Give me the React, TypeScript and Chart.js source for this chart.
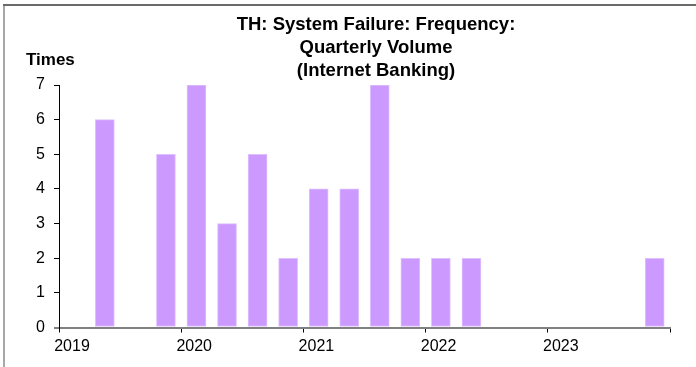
import React, { useEffect, useRef } from "react";
import { Chart, registerables } from "chart.js";

Chart.register(...registerables);

const quarters = [
  "2019Q1", "2019Q2", "2019Q3", "2019Q4",
  "2020Q1", "2020Q2", "2020Q3", "2020Q4",
  "2021Q1", "2021Q2", "2021Q3", "2021Q4",
  "2022Q1", "2022Q2", "2022Q3", "2022Q4",
  "2023Q1", "2023Q2", "2023Q3", "2023Q4",
];
const failures = [0, 6, 0, 5, 7, 3, 5, 2, 4, 4, 7, 2, 2, 2, 0, 0, 0, 0, 0, 2];
const yearLabels = ["2019", "2020", "2021", "2022", "2023", ""];
const titleLines = ["TH: System Failure: Frequency:", "Quarterly Volume", "(Internet Banking)"];
const yAxisTitle = "Times";

const FONT = "'Liberation Sans', Arial, sans-serif";

export default function App() {
  const ref = useRef<HTMLCanvasElement | null>(null);

  useEffect(() => {
    if (!ref.current) return;
    const points = quarters.map((q, i) => ({ x: i + 0.5, y: failures[i] === 0 ? null : failures[i] }));

    const decor = {
      id: "decor",
      beforeDraw(chart: any) {
        const ctx = chart.ctx;
        ctx.save();
        ctx.fillStyle = "#ffffff";
        ctx.fillRect(0, 0, chart.width, chart.height);
        ctx.restore();
      },
      afterDraw(chart: any) {
        const ctx = chart.ctx;
        ctx.save();
        // frame
        ctx.fillStyle = "#a8a8a8";
        ctx.fillRect(3, 5, 2, chart.height - 5);
        ctx.fillStyle = "#6a6a6a";
        ctx.fillRect(3, 4, chart.width - 3, 2);
        // title
        ctx.fillStyle = "#000000";
        ctx.font = "bold 18.5px " + FONT;
        ctx.textAlign = "center";
        ctx.textBaseline = "alphabetic";
        const bases = [30, 53, 76];
        titleLines.forEach((t, i) => ctx.fillText(t, 376, bases[i]));
        // y axis title
        ctx.font = "bold 17px " + FONT;
        ctx.textAlign = "left";
        ctx.fillText(yAxisTitle, 26, 65);
        ctx.restore();
      },
    };

    const chart = new Chart(ref.current, {
      type: "bar",
      data: {
        datasets: [
          {
            label: "Times",
            data: points as any,
            backgroundColor: "#CC99FF",
            borderColor: "#DEC0FF",
            borderWidth: 1,
            borderSkipped: false,
            barThickness: 19,
          },
        ],
      },
      options: {
        responsive: false,
        animation: false,
        devicePixelRatio: 1,
        layout: { padding: { left: 0, right: 26, top: 85, bottom: 0 } },
        plugins: { legend: { display: false }, title: { display: false }, tooltip: { enabled: false } },
        scales: {
          x: {
            type: "linear",
            min: 0,
            max: 20,
            offset: false,
            border: { display: true, color: "#808080", width: 2 },
            grid: { display: true, offset: false, drawOnChartArea: false, drawTicks: true, tickLength: 5, color: "#000000", lineWidth: 1 },
            ticks: {
              stepSize: 4,
              autoSkip: false,
              maxRotation: 0,
              padding: 4,
              labelOffset: 13,
              color: "#000000",
              font: { family: FONT, size: 16 },
              callback: (v: any) => {
                const n = Number(v);
                return n % 4 === 0 ? yearLabels[n / 4] : "";
              },
            },
            afterFit: (s: any) => {
              s.height = 39.5;
            },
          },
          y: {
            min: 0,
            max: 7,
            border: { display: true, color: "#000000", width: 1 },
            grid: {
              display: true,
              offset: false,
              drawOnChartArea: false,
              drawTicks: true,
              tickLength: 5,
              color: (c: any) => (c.tick && c.tick.value === 0 ? "#808080" : "#000000"),
              lineWidth: (c: any) => (c.tick && c.tick.value === 0 ? 2 : 1),
            },
            ticks: {
              stepSize: 1,
              padding: 9,
              color: "#000000",
              font: { family: FONT, size: 16 },
            },
            afterFit: (s: any) => {
              s.width = 59;
            },
          },
        },
      },
      plugins: [decor],
    });
    return () => chart.destroy();
  }, []);

  return (
    <div style={{ position: "fixed", left: 0, top: 0, width: 696, height: 367, background: "#fff" }}>
      <canvas ref={ref} width={696} height={367} style={{ display: "block", width: 696, height: 367 }} />
    </div>
  );
}
